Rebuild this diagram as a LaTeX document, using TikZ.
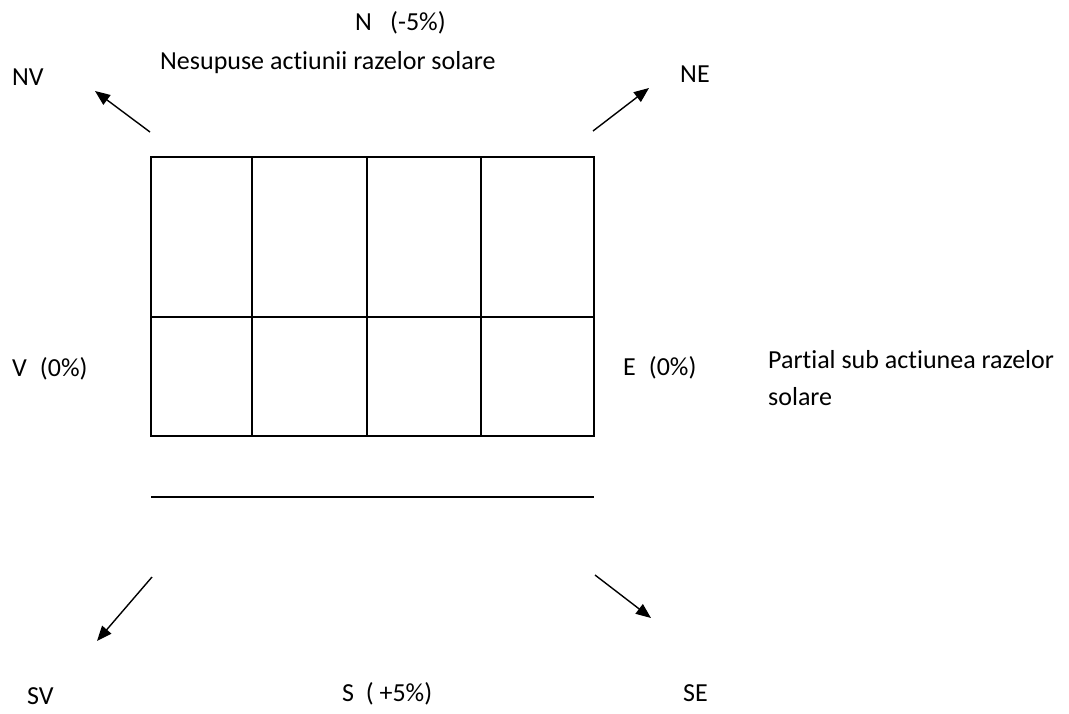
\documentclass[tikz,border=0pt]{standalone}
\usepackage{fontspec}
\setmainfont{Carlito}[Ligatures=NoCommon]
\usetikzlibrary{arrows.meta}
\tikzset{
  lbl/.style={inner sep=0pt, anchor=base west, font=\fontsize{26}{37}\selectfont},
  gridline/.style={line width=1.3pt},
  dirarrow/.style={line width=1.4pt, -{Triangle[length=15pt,width=12pt]}}
}
\begin{document}
\begin{tikzpicture}[x=1pt,y=-1pt]
\useasboundingbox (0,0) rectangle (1069,713);
% grid
\draw[gridline] (151,157) rectangle (594,436);
\draw[gridline] (151,317) -- (594,317);
\draw[gridline] (252,157) -- (252,436);
\draw[gridline] (367,157) -- (367,436);
\draw[gridline] (481,157) -- (481,436);
\draw[gridline] (151,497) -- (594,497);
% arrow coordinates
\coordinate (nvs) at (150,132);
\coordinate (nvt) at (95,91);
\coordinate (nes) at (593,131);
\coordinate (net) at (649,88);
\coordinate (svs) at (152,577);
\coordinate (svt) at (97,641);
\coordinate (ses) at (595,575);
\coordinate (set) at (651,618);
\draw[dirarrow] (nvs) -- (nvt);
\draw[dirarrow] (nes) -- (net);
\draw[dirarrow] (svs) -- (svt);
\draw[dirarrow] (ses) -- (set);
% labels
\node[lbl] (n) at (355,30) {N\hspace{0.7em}(-5\%)};
\node[lbl] (nsub) at (160,69) {Nesupuse actiunii razelor solare};
\node[lbl] (nv) at (12,85) {NV};
\node[lbl] (ne) at (680,82) {NE};
\node[lbl] (v) at (12,376) {V\hspace{0.5em}(0\%)};
\node[lbl] (e) at (623,375) {E\hspace{0.5em}(0\%)};
\node[lbl, anchor=north west, align=left, text depth=0pt] (esub) at (768,350) {Partial sub actiunea razelor\\solare};
\node[lbl] (sv) at (27,704) {SV};
\node[lbl] (s) at (342,701) {S\hspace{0.45em}( +5\%)};
\node[lbl] (se) at (683,701) {SE};
\end{tikzpicture}
\end{document}
